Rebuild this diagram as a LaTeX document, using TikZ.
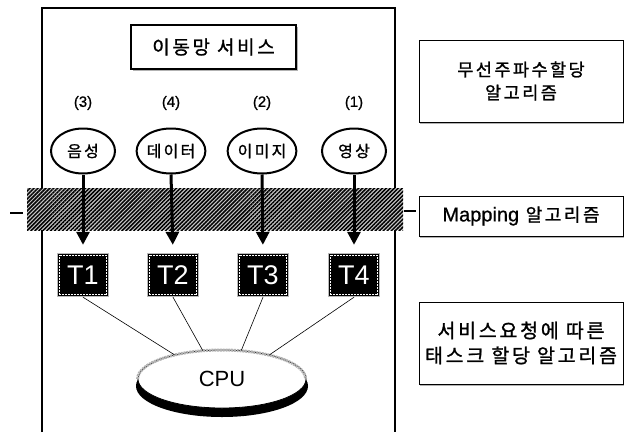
\documentclass[tikz,border=0pt]{standalone}
\usepackage{fontspec}
\setmainfont{Liberation Sans}
\newfontfamily\kr{Noto Sans CJK KR}[LetterSpace=14,FakeBold=1.2]
\newfontfamily\lat{Liberation Sans}[FakeBold=0.8]
\usetikzlibrary{shapes.geometric,arrows.meta,patterns.meta,shadows}

\begin{document}
\begin{tikzpicture}[x=1pt,y=-1pt,
  titlebox/.style={draw,line width=2.2pt,fill=white,minimum width=165pt,minimum height=44pt,
    font=\kr\fontsize{19}{22}\selectfont,
    drop shadow={shadow xshift=2pt,shadow yshift=-2pt,fill=gray!60,opacity=1}},
  svcnode/.style={ellipse,draw,line width=2pt,minimum width=64pt,minimum height=45pt,inner sep=0pt,
    font=\kr\fontsize{16}{18}\selectfont},
  prio/.style={font=\lat\fontsize{15}{17}\selectfont},
  taskbox/.style={fill=black,draw=gray!55,line width=1.4pt,minimum width=51pt,minimum height=43pt,
    inner sep=0pt,text=white,font=\fontsize{27}{30}\selectfont},
  algbox/.style={draw,line width=0.8pt,fill=white,minimum width=204pt,inner sep=4pt,align=center,
    font=\kr\fontsize{17.5}{23}\selectfont,
    drop shadow={shadow xshift=1pt,shadow yshift=-1.5pt,fill=gray!60,opacity=1}},
  maparrow/.style={line width=3pt,-{Triangle[width=13pt,length=13pt]},shorten >=8pt},
  link/.style={line width=0.6pt}
]
\useasboundingbox (0,0) rectangle (624,432);

% outer frame of the service block (open at the bottom)
\draw[line width=1.8pt] (42,432) -- (42,8) -- (395,8) -- (395,432);

% mobile network service title
\node[titlebox] (svc) at (213.5,47) {이동망 서비스};

% service types with priorities
\node[svcnode] (voice) at (83,151) {음성};
\node[svcnode] (data)  at (171,151) {데이터};
\node[svcnode] (image) at (262,151) {이미지};
\node[svcnode] (video) at (354,151) {영상};
\node[prio] (p3) at (83,103) {(3)};
\node[prio] (p4) at (171,103) {(4)};
\node[prio] (p2) at (262,103) {(2)};
\node[prio] (p1) at (354,103) {(1)};

% mapping layer band
\fill[gray!45] (27,188) rectangle (403,230);
\fill[pattern={Lines[angle=45,distance=2.8pt,line width=1.5pt]},pattern color=black] (27,188) rectangle (403,230);
\coordinate (la) at (10,213);
\coordinate (lb) at (23,213);
\coordinate (ra) at (404,211);
\coordinate (rb) at (416,211);
\draw[line width=1.8pt] (la) -- (lb);
\draw[line width=1.8pt] (ra) -- (rb);

% tasks
\node[taskbox] (t1) at (83,275) {T1};
\node[taskbox] (t2) at (173,275) {T2};
\node[taskbox] (t3) at (263,275) {T3};
\node[taskbox] (t4) at (354,275) {T4};
\foreach \t in {t1,t2,t3,t4}
  \draw[white,line width=0.5pt,densely dotted] ([shift={(2.5,2.5)}]\t.north west) rectangle ([shift={(-2.5,-2.5)}]\t.south east);

\draw[maparrow] (voice.south) -- (t1.north);
\draw[maparrow] (data.south)  -- (t2.north);
\draw[maparrow] (image.south) -- (t3.north);
\draw[maparrow] (video.south) -- (t4.north);

% CPU disc
\fill (222,386) ellipse [x radius=86, y radius=31];
\node[ellipse,draw,line width=0.8pt,fill=white,minimum width=168pt,minimum height=58pt,inner sep=0pt,
  font=\fontsize{22}{26}\selectfont] (cpu) at (222,379) {CPU};
\draw[gray!60,line width=3pt,dash pattern=on 2pt off 0.8pt]
  (cpu.west) arc[start angle=180,end angle=360,x radius=84,y radius=29];

\draw[link] (t1.south) -- (cpu.153);
\draw[link] (t2.south) -- (cpu.124);
\draw[link] (t3.south) -- (cpu.56);
\draw[link] (t4.south) -- (cpu.27);

% algorithm descriptions
\node[algbox,minimum height=82pt] (radio) at (521,81) {무선주파수할당\\알고리즘};
\node[algbox,minimum height=40pt,font=\kr\fontsize{18}{22}\selectfont] (mapalg) at (521,216)
  {{\lat\fontsize{20}{22}\selectfont Mapping} 알고리즘};
\node[algbox,minimum height=82pt,font=\kr\fontsize{19.5}{25}\selectfont,inner sep=2pt] (taskalg) at (521,343) {서비스요청에 따른\\태스크 할당 알고리즘};
\end{tikzpicture}
\end{document}
